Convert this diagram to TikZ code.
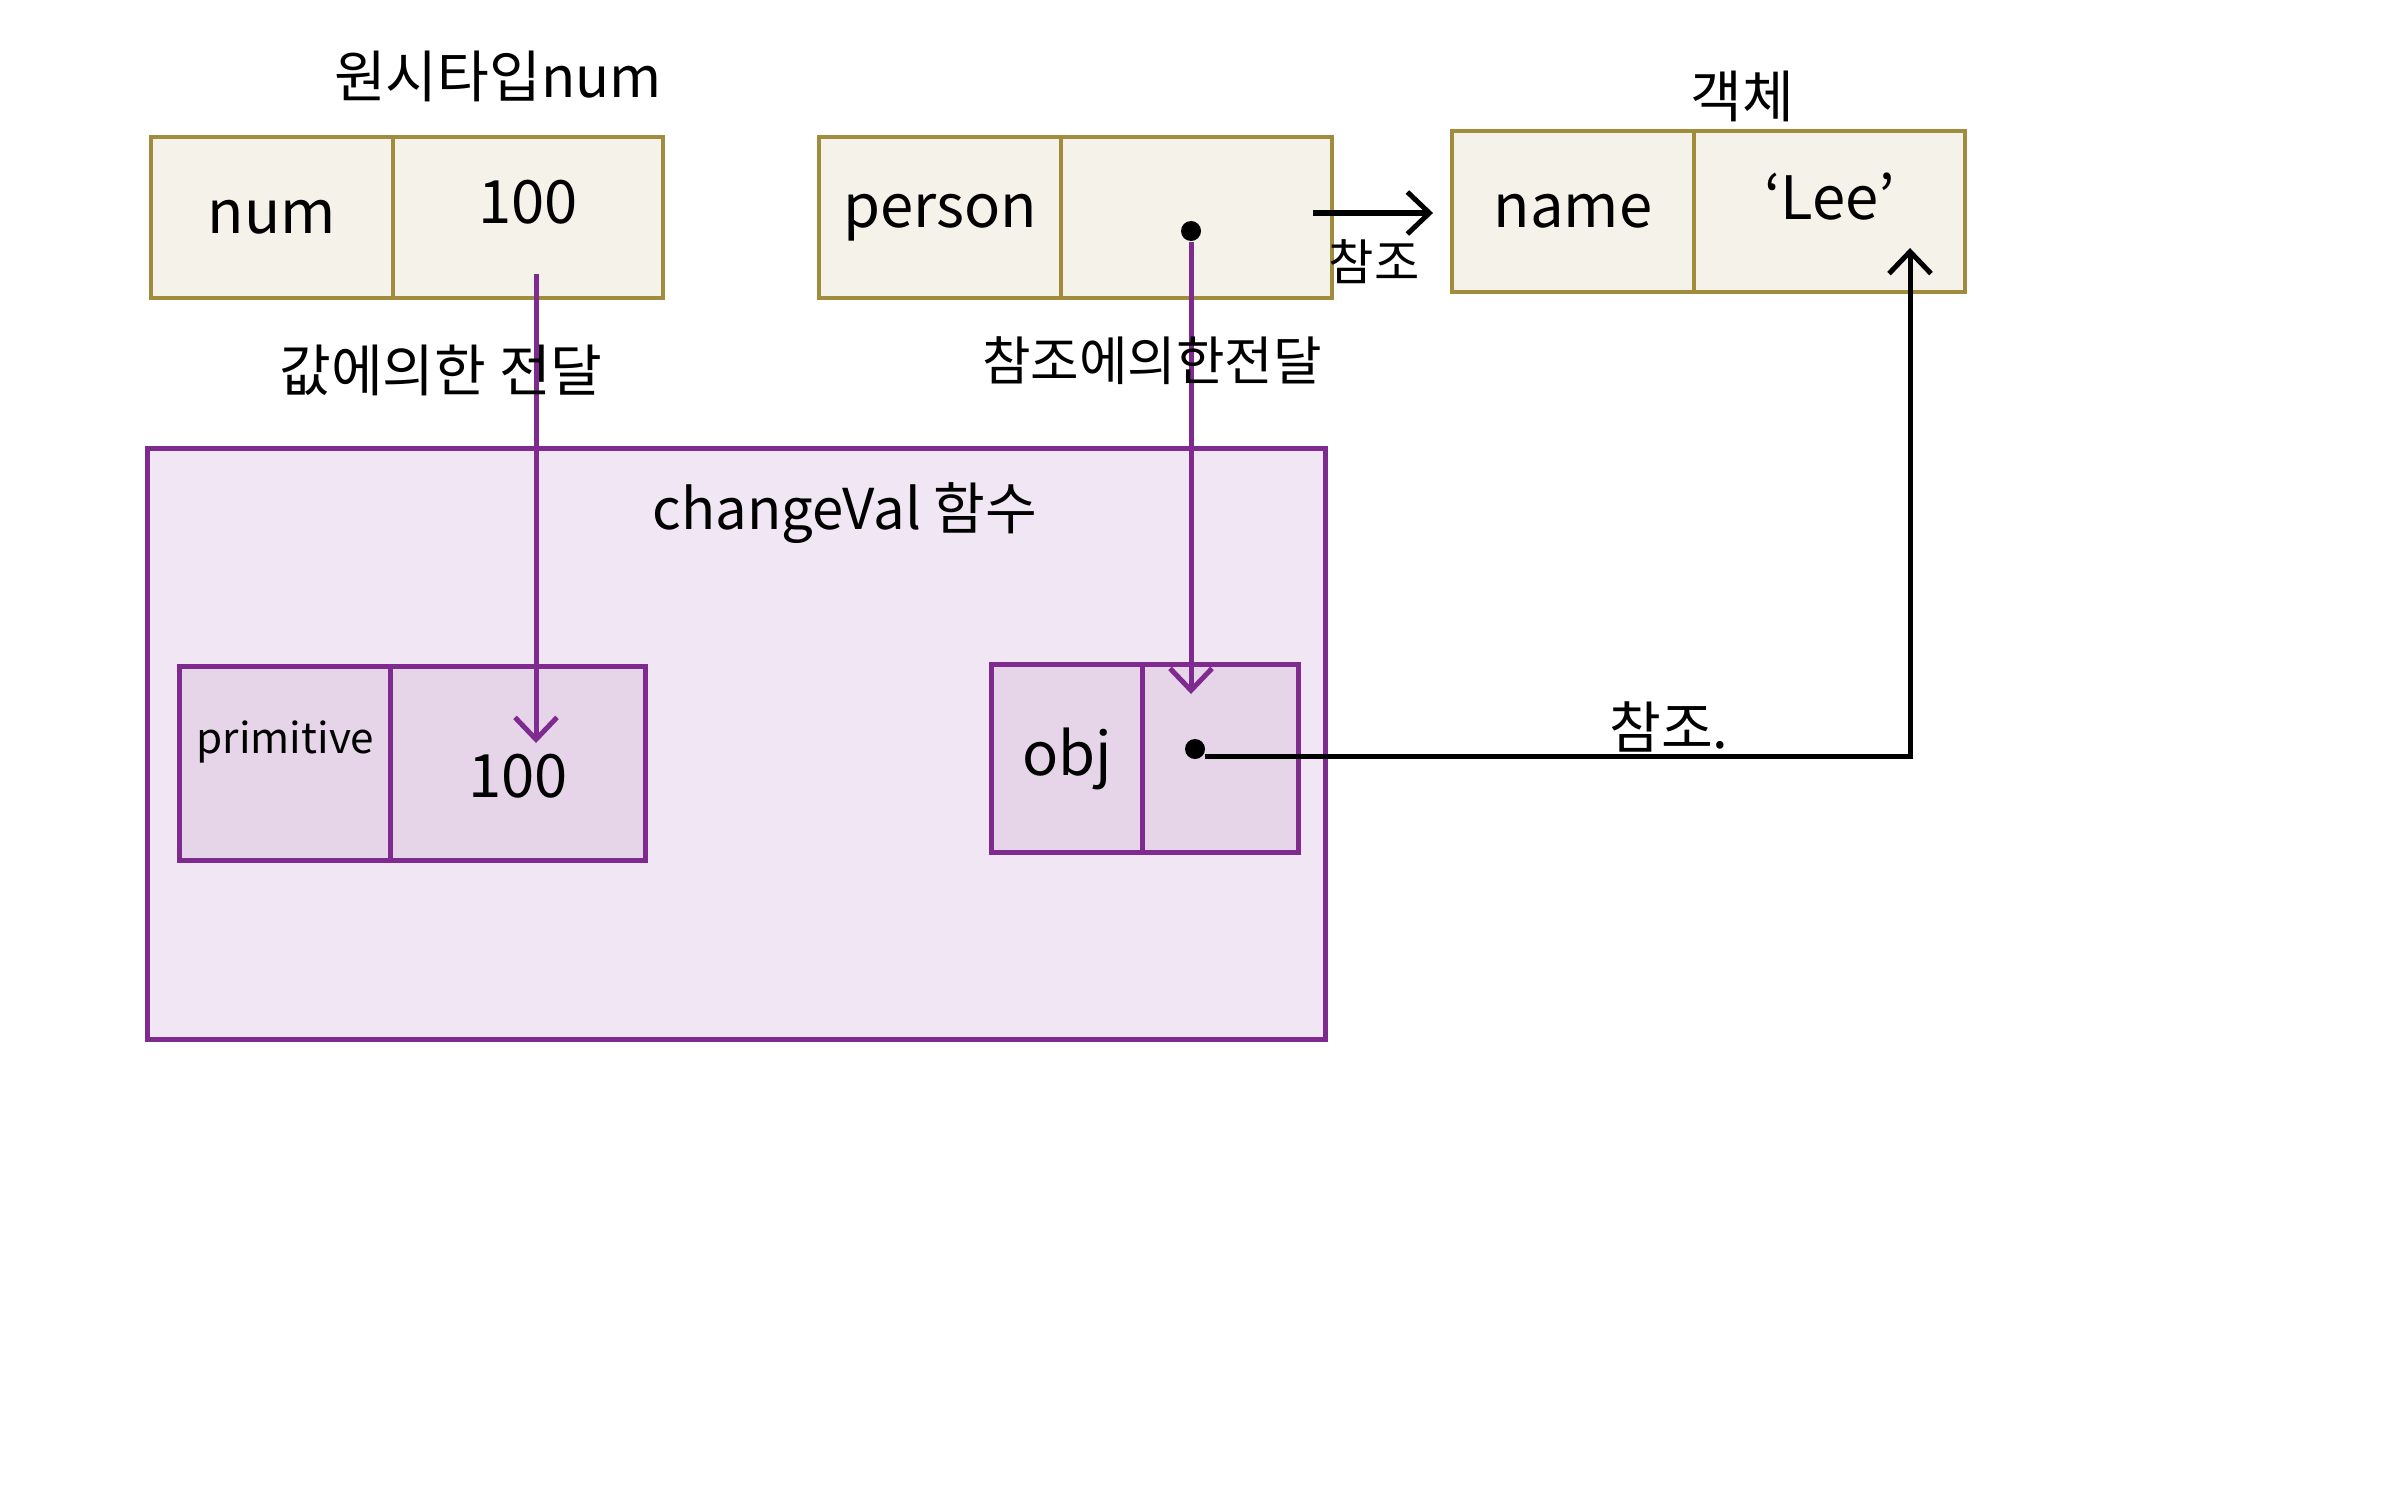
\documentclass[tikz,border=0pt]{standalone}
\usepackage{fontspec}
\usepackage{xcolor}
\usepackage{tikz}
\usetikzlibrary{arrows.meta}
\newfontfamily\kr{Noto Sans CJK KR}
\definecolor{goldline}{HTML}{A08C3C}
\definecolor{goldfill}{HTML}{F5F2EA}
\definecolor{purpline}{HTML}{7F2A8E}
\definecolor{purpfill}{HTML}{F1E6F3}
\definecolor{cellfill}{HTML}{E6D4E9}
\tikzset{
  hand/.style={font=\kr\fontsize{16}{19}\selectfont},
  goldcell/.style={draw=goldline,fill=goldfill,line width=0.045cm,inner sep=0pt,font=\kr\fontsize{17}{20}\selectfont},
  purpcell/.style={draw=purpline,fill=cellfill,line width=0.05cm,inner sep=0pt,font=\kr\fontsize{17}{20}\selectfont},
  refdot/.style={circle,fill=black,inner sep=0pt,minimum size=0.2cm},
  barb/.style={-{Straight Barb[length=0.22cm,width=0.42cm,line width=0.05cm]}},
}

\begin{document}
\begin{tikzpicture}[x={0.01cm},y={-0.01cm}]
\useasboundingbox (0,0) rectangle (2386,1491);

% primitive num
\node[goldcell,minimum width=2.42cm,minimum height=1.61cm] (numkey) at (272,217.5) {num};
\node[goldcell,minimum width=2.70cm,minimum height=1.61cm] (numval) at (528,217.5) {\raisebox{-0.06cm}[0pt][0pt]{100}};
\node[hand] (numtitle) at (498,76) {원시타입num};

% person
\node[goldcell,minimum width=2.42cm,minimum height=1.61cm] (perkey) at (940,217.5) {person};
\node[goldcell,minimum width=2.71cm,minimum height=1.61cm] (perval) at (1196.5,217.5) {};
\node[refdot] (perdot) at (1191,231) {};

% object
\node[goldcell,minimum width=2.42cm,minimum height=1.61cm] (objkey) at (1573,211.5) {name};
\node[goldcell,minimum width=2.71cm,minimum height=1.61cm] (objval) at (1829.5,211.5) {\raisebox{-0.08cm}[0pt][0pt]{‘Lee’}};
\node[hand] (objtitle) at (1742,96) {객체};

% changeVal
\node[draw=purpline,fill=purpfill,line width=0.05cm,minimum width=11.77cm,minimum height=5.90cm] (func) at (736.5,744) {};
\node[hand] (functitle) at (845,513) {changeVal 함수};
\node[purpcell,minimum width=2.11cm,minimum height=1.93cm,font=\kr\fontsize{12}{14}\selectfont] (primkey) at (285.5,763.5) {\raisebox{0.1cm}[0pt][0pt]{primitive}};
\node[purpcell,minimum width=2.54cm,minimum height=1.93cm] (primval) at (518,763.5) {\raisebox{-0.34cm}[0pt][0pt]{100}};
\node[purpcell,minimum width=1.51cm,minimum height=1.87cm] (objarg) at (1067.5,758.5) {obj};
\node[purpcell,minimum width=1.55cm,minimum height=1.87cm] (objref) at (1220.5,758.5) {};
\node[refdot] (argdot) at (1195,749) {};

% arrow ends
\coordinate (valfrom) at (536,274);
\coordinate (valto) at (536,743);
\coordinate (refto) at (1191,694);
\coordinate (perfrom) at (1313,213);
\coordinate (perto) at (1433,213);
\coordinate (argfrom) at (1205,756);
\coordinate (leetip) at (1910,248);

\draw[purpline,line width=0.05cm,barb] (valfrom) -- (valto);
\draw[purpline,line width=0.05cm,barb] (perdot) -- (refto);
\draw[black,line width=0.05cm,barb] (perfrom) -- (perto);
\draw[black,line width=0.05cm,barb] (argfrom) -| (leetip);

\node[hand] (bytval) at (441,370) {값에의한 전달};
\node[hand,font=\kr\fontsize{15}{18}\selectfont] (byref) at (1152,361) {참조에의한전달};
\node[hand,font=\kr\fontsize{14}{17}\selectfont] (refa) at (1374,262) {참조};
\node[hand] (refb) at (1669,727) {참조.};
\end{tikzpicture}
\end{document}
